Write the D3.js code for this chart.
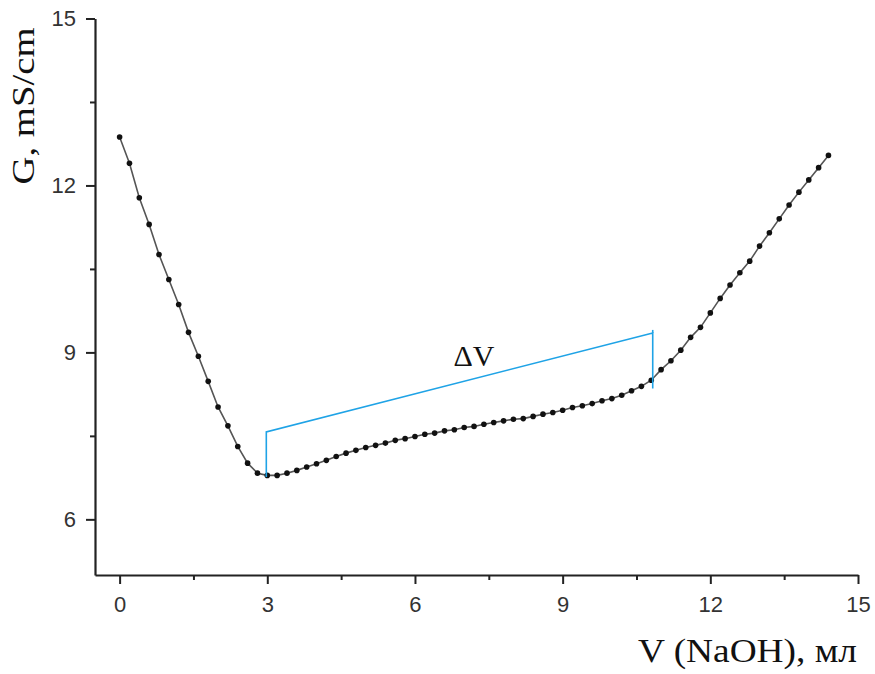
<!DOCTYPE html>
<html>
<head>
<meta charset="utf-8">
<script src="https://cdn.jsdelivr.net/npm/d3@7"></script>
<style>
  html, body { margin: 0; padding: 0; background: #fff; }
  svg { display: block; }
</style>
</head>
<body>
<svg id="chart" width="875" height="674"></svg>
<script>
// ---- data ----
const volume = [0.0,0.2,0.4,0.6,0.8,1.0,1.2,1.4,1.6,1.8,2.0,2.2,2.4,2.6,2.8,
  3.0,3.2,3.4,3.6,3.8,4.0,4.2,4.4,4.6,4.8,5.0,5.2,5.4,5.6,5.8,6.0,6.2,6.4,6.6,6.8,
  7.0,7.2,7.4,7.6,7.8,8.0,8.2,8.4,8.6,8.8,9.0,9.2,9.4,9.6,9.8,10.0,10.2,10.4,10.6,10.8,
  11.0,11.2,11.4,11.6,11.8,12.0,12.2,12.4,12.6,12.8,13.0,13.2,13.4,13.6,13.8,14.0,14.2,14.4];
const conductivity = [12.87,12.40,11.78,11.30,10.76,10.31,9.86,9.36,8.93,8.48,8.02,7.68,7.31,7.01,6.83,
  6.79,6.79,6.83,6.88,6.94,7.00,7.06,7.13,7.19,7.24,7.29,7.33,7.37,7.42,7.45,7.49,7.53,7.55,7.59,7.61,
  7.65,7.67,7.71,7.74,7.77,7.80,7.81,7.85,7.89,7.92,7.96,8.01,8.04,8.08,8.13,8.17,8.23,8.31,8.39,8.50,
  8.69,8.85,9.04,9.27,9.45,9.71,9.97,10.21,10.43,10.64,10.91,11.15,11.40,11.65,11.88,12.10,12.32,12.54];

const xMajorTicks = [0, 3, 6, 9, 12, 15];
const xMinorTicks = [1.5, 4.5, 7.5, 10.5, 13.5];
const yMajorTicks = [6, 9, 12, 15];
const yMinorTicks = [7.5, 10.5, 13.5];

// ΔV bracket (left & right ends)
const bracketX = [2.98, 10.83];
const bracketBottom = [6.76, 8.35];
const bracketTop = [7.57, 9.35];
const bracketLabel = "ΔV";
const bracketLabelPos = [7.2, 9.0];

const xTitle = "V (NaOH), мл";
const yTitle = "G, mS/cm";

// ---- layout ----
const svg = d3.select("#chart");
const x = d3.scaleLinear().domain([-0.5, 15]).range([95, 858]);
const y = d3.scaleLinear().domain([5, 15]).range([575, 18.5]);

const axisColor = "#222";
const tickFont = "'Liberation Sans', Arial, sans-serif";
const serif = "'Liberation Serif', 'Times New Roman', serif";

// X axis
const gx = svg.append("g").attr("transform", `translate(0,${y(5)})`);
gx.call(d3.axisBottom(x).tickValues(xMajorTicks).tickSize(9).tickSizeOuter(0).tickPadding(12).tickFormat(d3.format("d")));
gx.append("g").call(d3.axisBottom(x).tickValues(xMinorTicks).tickSize(5).tickSizeOuter(0).tickFormat(""))
  .select(".domain").remove();

// Y axis
const gy = svg.append("g").attr("transform", `translate(${x(-0.5)},0)`);
gy.call(d3.axisLeft(y).tickValues(yMajorTicks).tickSize(9).tickSizeOuter(0).tickPadding(10).tickFormat(d3.format("d")));
gy.append("g").call(d3.axisLeft(y).tickValues(yMinorTicks).tickSize(5).tickSizeOuter(0).tickFormat(""))
  .select(".domain").remove();

svg.selectAll(".domain").attr("stroke", axisColor).attr("stroke-width", 2.2);
svg.selectAll(".tick line").attr("stroke", axisColor).attr("stroke-width", 2);
svg.selectAll(".tick text").attr("font-family", tickFont).attr("font-size", 22).attr("fill", "#333");

// Data line + markers
const pts = volume.map((v, i) => [v, conductivity[i]]);
svg.append("path")
  .datum(pts)
  .attr("fill", "none")
  .attr("stroke", "#555")
  .attr("stroke-width", 1.6)
  .attr("d", d3.line().x(d => x(d[0])).y(d => y(d[1])));

svg.append("g").selectAll("circle")
  .data(pts).join("circle")
  .attr("cx", d => x(d[0]))
  .attr("cy", d => y(d[1]))
  .attr("r", 2.8)
  .attr("fill", "#111");

// ΔV bracket
const blue = "#1fa3e6";
const bracketPts = [
  [bracketX[0], bracketBottom[0]],
  [bracketX[0], bracketTop[0]],
  [bracketX[1], bracketTop[1]],
  [bracketX[1], bracketBottom[1]]
];
svg.append("path")
  .datum(bracketPts)
  .attr("fill", "none")
  .attr("stroke", blue)
  .attr("stroke-width", 1.6)
  .attr("d", d3.line().x(d => x(d[0])).y(d => y(d[1])));
// small top extension at right end
svg.append("line")
  .attr("x1", x(bracketX[1])).attr("x2", x(bracketX[1]))
  .attr("y1", y(bracketTop[1])).attr("y2", y(bracketTop[1]) - 3)
  .attr("stroke", blue).attr("stroke-width", 1.6);

svg.append("text")
  .attr("x", x(bracketLabelPos[0]))
  .attr("y", y(bracketLabelPos[1]) + 14)
  .attr("text-anchor", "middle")
  .attr("font-family", serif)
  .attr("font-size", 30)
  .attr("fill", "#111")
  .text(bracketLabel);

// Axis titles
svg.append("text")
  .attr("x", 638).attr("y", 662)
  .attr("font-family", serif)
  .attr("font-size", 34)
  .attr("fill", "#111")
  .attr("textLength", 219)
  .attr("lengthAdjust", "spacingAndGlyphs")
  .text(xTitle);

svg.append("text")
  .attr("transform", "translate(34,106) rotate(-90)")
  .attr("text-anchor", "middle")
  .attr("font-family", serif)
  .attr("font-size", 31)
  .attr("fill", "#111")
  .attr("textLength", 157)
  .attr("lengthAdjust", "spacingAndGlyphs")
  .text(yTitle);
</script>
</body>
</html>
